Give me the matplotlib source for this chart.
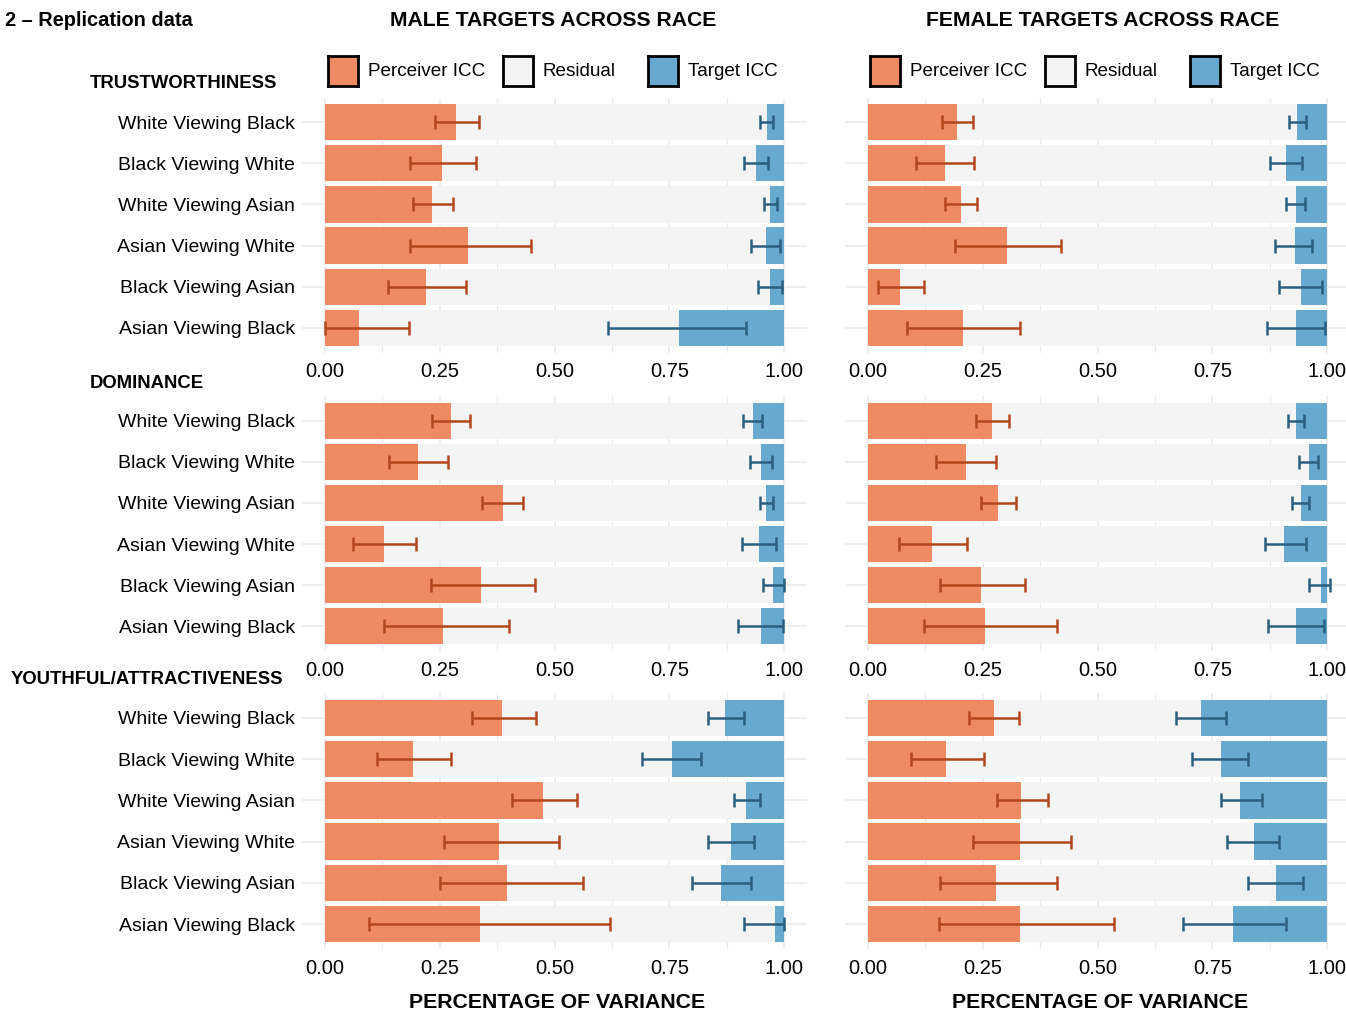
import matplotlib
matplotlib.use("Agg")
import matplotlib.pyplot as plt
import numpy as np

plt.rcParams['font.family'] = ['Liberation Sans', 'DejaVu Sans']
HEAD = ['Liberation Sans Narrow', 'Liberation Sans', 'DejaVu Sans']

pairs = ['White Viewing Black', 'Black Viewing White', 'White Viewing Asian',
         'Asian Viewing White', 'Black Viewing Asian', 'Asian Viewing Black']
traits = ['TRUSTWORTHINESS', 'DOMINANCE', 'YOUTHFUL/ATTRACTIVENESS']
columns = ['MALE TARGETS ACROSS RACE', 'FEMALE TARGETS ACROSS RACE']
ticks = [0.0, 0.25, 0.5, 0.75, 1.0]
tick_labels = ['0.00', '0.25', '0.50', '0.75', '1.00']

# trustworthiness
male_trust_perc = [0.286, 0.254, 0.234, 0.312, 0.220, 0.074]
male_trust_perc_ci = [(0.240, 0.336), (0.185, 0.329), (0.191, 0.278), (0.185, 0.448), (0.137, 0.307), (0.0, 0.184)]
male_trust_targ = [0.037, 0.062, 0.031, 0.040, 0.031, 0.228]
male_trust_targ_ci = [(0.023, 0.052), (0.036, 0.087), (0.015, 0.044), (0.008, 0.072), (0.005, 0.057), (0.082, 0.384)]

female_trust_perc = [0.194, 0.168, 0.203, 0.302, 0.070, 0.206]
female_trust_perc_ci = [(0.162, 0.229), (0.105, 0.232), (0.168, 0.237), (0.190, 0.420), (0.022, 0.123), (0.085, 0.331)]
female_trust_targ = [0.066, 0.089, 0.068, 0.071, 0.057, 0.068]
female_trust_targ_ci = [(0.046, 0.083), (0.054, 0.124), (0.049, 0.089), (0.032, 0.113), (0.012, 0.104), (0.004, 0.132)]

# dominance
male_dom_perc = [0.274, 0.203, 0.388, 0.129, 0.339, 0.257]
male_dom_perc_ci = [(0.234, 0.315), (0.140, 0.267), (0.343, 0.432), (0.062, 0.198), (0.231, 0.458), (0.128, 0.400)]
male_dom_targ = [0.068, 0.051, 0.040, 0.054, 0.023, 0.051]
male_dom_targ_ci = [(0.047, 0.089), (0.027, 0.075), (0.025, 0.053), (0.017, 0.092), (0.0, 0.046), (0.003, 0.100)]

female_dom_perc = [0.270, 0.213, 0.284, 0.140, 0.247, 0.255]
female_dom_perc_ci = [(0.235, 0.308), (0.149, 0.279), (0.247, 0.322), (0.068, 0.216), (0.156, 0.342), (0.121, 0.411)]
female_dom_targ = [0.067, 0.040, 0.057, 0.093, 0.014, 0.067]
female_dom_targ_ci = [(0.051, 0.085), (0.020, 0.061), (0.039, 0.077), (0.047, 0.136), (-0.006, 0.039), (0.007, 0.128)]

# youthful / attractiveness
male_youth_perc = [0.386, 0.192, 0.475, 0.380, 0.397, 0.337]
male_youth_perc_ci = [(0.320, 0.459), (0.114, 0.275), (0.408, 0.549), (0.260, 0.509), (0.251, 0.563), (0.097, 0.621)]
male_youth_targ = [0.128, 0.245, 0.082, 0.116, 0.137, 0.020]
male_youth_targ_ci = [(0.087, 0.166), (0.180, 0.309), (0.053, 0.108), (0.065, 0.166), (0.071, 0.200), (0.0, 0.088)]

female_youth_perc = [0.274, 0.171, 0.334, 0.331, 0.279, 0.331]
female_youth_perc_ci = [(0.219, 0.329), (0.093, 0.252), (0.280, 0.392), (0.229, 0.443), (0.156, 0.411), (0.154, 0.535)]
female_youth_targ = [0.274, 0.232, 0.189, 0.160, 0.111, 0.205]
female_youth_targ_ci = [(0.220, 0.329), (0.172, 0.295), (0.142, 0.232), (0.105, 0.218), (0.052, 0.172), (0.089, 0.315)]

panels = [
    [(male_trust_perc, male_trust_perc_ci, male_trust_targ, male_trust_targ_ci),
     (female_trust_perc, female_trust_perc_ci, female_trust_targ, female_trust_targ_ci)],
    [(male_dom_perc, male_dom_perc_ci, male_dom_targ, male_dom_targ_ci),
     (female_dom_perc, female_dom_perc_ci, female_dom_targ, female_dom_targ_ci)],
    [(male_youth_perc, male_youth_perc_ci, male_youth_targ, male_youth_targ_ci),
     (female_youth_perc, female_youth_perc_ci, female_youth_targ, female_youth_targ_ci)],
]

ORANGE = '#EF8A62'
BLUE = '#67A9CF'
GREY = '#F4F4F4'
ORANGE_ERR = '#B4461C'
BLUE_ERR = '#2B5F80'
GRID = '#EBEBEB'

W, H = 1346, 1017
fig = plt.figure(figsize=(W / 100, H / 100), dpi=100)


def rect(l, t, r, b):
    return [l / W, 1 - b / H, (r - l) / W, (b - t) / H]


col_x = [(302, 807, (-0.05, 1.05)), (845, 1346, (-0.05, 1.041))]
row_y = [(97.5, 352.5), (396, 651), (693, 949)]

for ri, (top, bot) in enumerate(row_y):
    for ci, (left, right, xl) in enumerate(col_x):
        perc, perc_ci, targ, targ_ci = panels[ri][ci]
        perc = np.array(perc)
        targ = np.array(targ)
        plo = np.array([c[0] for c in perc_ci])
        phi = np.array([c[1] for c in perc_ci])
        tlo = np.array([c[0] for c in targ_ci])
        thi = np.array([c[1] for c in targ_ci])
        y = np.arange(len(pairs))[::-1] + 1

        ax = fig.add_axes(rect(left, top, right, bot))
        ax.set_xlim(*xl)
        ax.set_ylim(0.4, 6.6)
        for gx in np.arange(0, 1.01, 0.125):
            ax.axvline(gx, color=GRID, lw=1.2 if gx * 4 % 1 == 0 else 0.8, zorder=0)
        for gy in y:
            ax.axhline(gy, color=GRID, lw=1.2, zorder=0)

        ax.barh(y, perc, height=0.88, color=ORANGE, zorder=2)
        ax.barh(y, 1 - perc - targ, left=perc, height=0.88, color=GREY, zorder=2)
        ax.barh(y, targ, left=1 - targ, height=0.88, color=BLUE, zorder=2)

        ax.errorbar(perc, y, xerr=[perc - plo, phi - perc], fmt='none',
                    ecolor=ORANGE_ERR, elinewidth=1.8, capsize=5.2, capthick=1.8, zorder=3)
        ax.errorbar(1 - targ, y, xerr=[thi - targ, targ - tlo], fmt='none',
                    ecolor=BLUE_ERR, elinewidth=1.8, capsize=5.2, capthick=1.8, zorder=3)

        ax.set_xticks(ticks)
        ax.set_xticklabels(tick_labels, fontsize=14.5)
        ax.set_yticks(y)
        if ci == 0:
            ax.set_yticklabels(pairs, fontsize=14)
        else:
            ax.set_yticklabels([])
        ax.tick_params(axis='y', length=0, pad=5)
        ax.tick_params(axis='x', length=0, pad=7)
        for s in ax.spines.values():
            s.set_visible(False)

# facet labels
fig.text(90 / W, 1 - 83 / H, traits[0], fontsize=13.3, fontweight='bold', family=HEAD, va='center')
fig.text(90 / W, 1 - 383 / H, traits[1], fontsize=13.3, fontweight='bold', family=HEAD, va='center')
fig.text(11 / W, 1 - 680 / H, traits[2], fontsize=13.3, fontweight='bold', family=HEAD, va='center')

# column titles and axis titles
for cx, title in zip([553, 1103], columns):
    fig.text(cx / W, 1 - 20 / H, title, fontsize=15.2, fontweight='bold', family=HEAD,
             ha='center', va='center')
for cx in [557, 1100]:
    fig.text(cx / W, 1 - 1002 / H, 'PERCENTAGE OF VARIANCE', fontsize=15.3, fontweight='bold',
             family=HEAD, ha='center', va='center')

fig.text(5 / W, 1 - 21 / H, '2 \u2013 Replication data', fontsize=14.4, fontweight='bold',
         va='center')

# legends
legend_items = [('Perceiver ICC', ORANGE), ('Residual', GREY), ('Target ICC', BLUE)]
for x0s in [(328, 503, 648), (870, 1045, 1190)]:
    for (lab, col), x0 in zip(legend_items, x0s):
        lax = fig.add_axes(rect(x0, 56, x0 + 30, 86))
        lax.set_xticks([])
        lax.set_yticks([])
        lax.set_facecolor(col)
        for s in lax.spines.values():
            s.set_linewidth(2)
            s.set_color('black')
        fig.text((x0 + 40) / W, 1 - 71 / H, lab, fontsize=13.6, va='center')

fig.savefig('out.png', dpi=100)
